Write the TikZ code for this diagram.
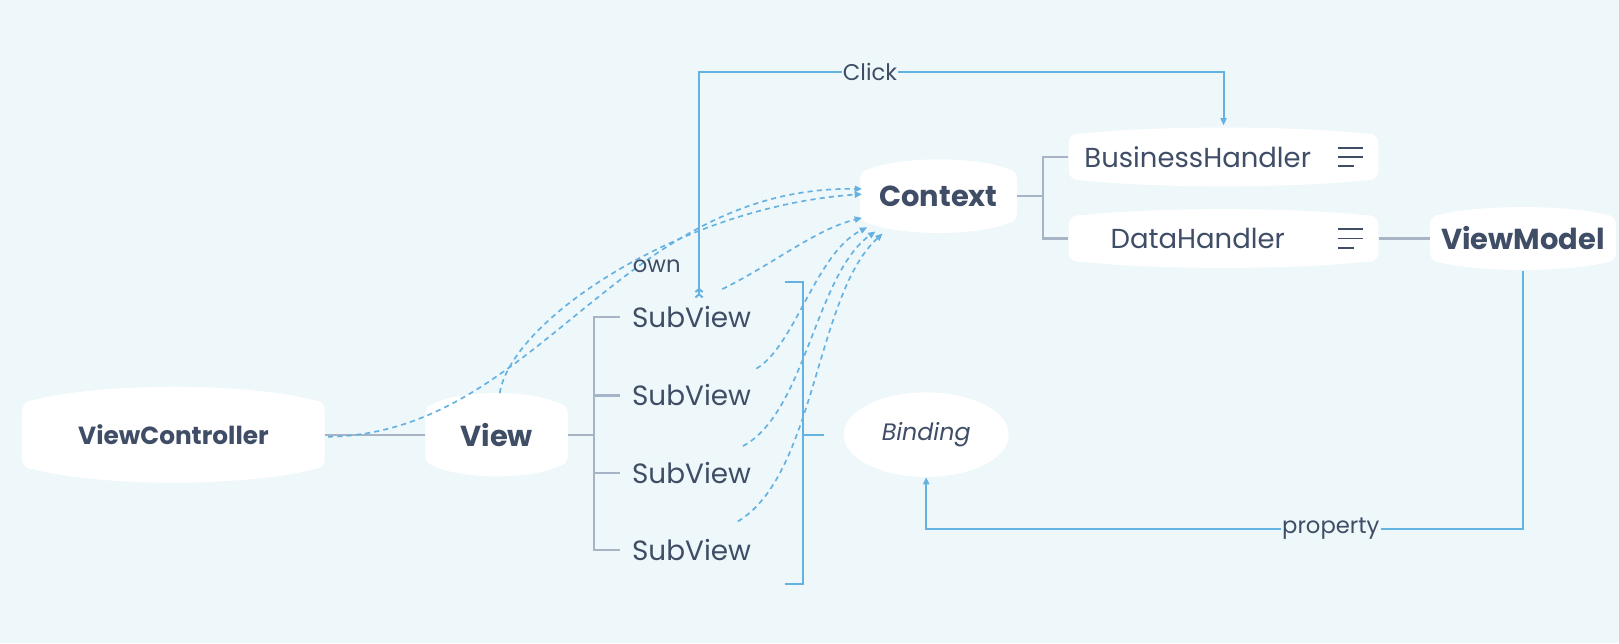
\documentclass[tikz,border=0pt]{standalone}
\usepackage{fontspec}
\setmainfont{Poppins}
\usetikzlibrary{arrows.meta,calc,shapes.geometric}
\definecolor{bg}{HTML}{EEF7FA}
\definecolor{txt}{HTML}{3F4D66}
\definecolor{gry}{HTML}{A6B4C5}
\definecolor{blu}{HTML}{64B1E2}
\newcommand\blobfill[2]{%
  \fill[white] ($(#1.north west)+(6,1)$) .. controls ($(#1.north west)!0.25!(#1.north east)+(0,-#2)$) and ($(#1.north west)!0.75!(#1.north east)+(0,-#2)$) .. ($(#1.north east)+(-6,1)$) -- cycle;
  \fill[white] ($(#1.south west)+(6,-1)$) .. controls ($(#1.south west)!0.25!(#1.south east)+(0,#2)$) and ($(#1.south west)!0.75!(#1.south east)+(0,#2)$) .. ($(#1.south east)+(-6,-1)$) -- cycle;
}
\newcommand\menuicon[1]{%
  \draw[txt, line width=1.8pt] ($(#1.east)+(-39,-9)$) -- ($(#1.east)+(-15,-9)$);
  \draw[txt, line width=1.8pt] ($(#1.east)+(-39,0)$) -- ($(#1.east)+(-15,0)$);
  \draw[txt, line width=1.8pt] ($(#1.east)+(-39,9)$) -- ($(#1.east)+(-24,9)$);
}
\begin{document}
\begin{tikzpicture}[x=1pt,y=-1pt,
  box/.style={fill=white, rounded corners=9pt, inner sep=0pt, text=txt, align=center},
  bold/.style={font=\fontsize{#1}{#1}\selectfont\bfseries},
  reg/.style={font=\fontsize{#1}{#1}\selectfont},
  sub/.style={text=txt, font=\fontsize{27}{27}\selectfont, inner xsep=12pt, inner ysep=0pt},
  lbl/.style={text=txt, font=\fontsize{22}{22}\selectfont, fill=bg, inner xsep=1pt, inner ysep=0pt},
  gline/.style={draw=gry, line width=2.2pt},
  bline/.style={draw=blu, line width=1.9pt},
  tip/.style={-{Triangle[length=7pt,width=6pt]}},
  dline/.style={draw=blu, line width=1.6pt, dash pattern=on 5pt off 4pt, -{Triangle[length=7pt,width=6pt]}},
]
\useasboundingbox (0,0) rectangle (1568,623);
\fill[bg] (0,0) rectangle (1568,623);

% nodes
\node[box, bold=24, minimum width=293pt, minimum height=66pt] (vc) at (168,421) {ViewController};
\node[box, bold=28, minimum width=138pt, minimum height=60pt] (view) at (481,421) {View};
\node[box, bold=28, minimum width=152pt, minimum height=52pt] (ctx) at (909,190) {Context};
\node[box, reg=26.6, minimum width=300pt, minimum height=45pt] (bh) at (1185,152) {BusinessHandler\hspace{50pt}};
\node[box, reg=26.6, minimum width=300pt, minimum height=45pt] (dh) at (1185,231) {DataHandler\hspace{50pt}};
\node[box, bold=28, minimum width=180pt, minimum height=46pt] (vm) at (1475,231) {ViewModel};
\node[fill=white, ellipse, inner sep=0pt, minimum width=160pt, minimum height=82pt, text=txt, font=\fontsize{23}{23}\selectfont\itshape] (bind) at (897,421) {\raisebox{-2pt}{Binding}};
\blobfill{vc}{18}
\blobfill{view}{14}
\blobfill{ctx}{13}
\blobfill{bh}{8}
\blobfill{dh}{8}
\blobfill{vm}{10}
\menuicon{bh}
\menuicon{dh}

\node[sub, anchor=west] (sv1) at (600,307) {SubView};
\node[sub, anchor=west] (sv2) at (600,383) {SubView};
\node[sub, anchor=west] (sv3) at (600,458) {SubView};
\node[sub, anchor=west] (sv4) at (600,533) {SubView};

% grey tree lines
\coordinate (tv) at (575,421);
\draw[gline] (vc.east) -- (view.west);
\draw[gline] (view.east) -- (tv);
\draw[gline] (sv1.west) -| (tv);
\draw[gline] (sv2.west) -| (tv);
\draw[gline] (sv3.west) -| (tv);
\draw[gline] (sv4.west) -| (tv);
\coordinate (tc) at (1010,190);
\draw[gline] (ctx.east) -- (tc);
\draw[gline] (bh.west) -| (tc);
\draw[gline] (dh.west) -| (tc);
\draw[gline] (dh.east) -- (vm.west);

% blue bracket
\coordinate (brT) at (760,273);
\coordinate (brB) at (760,566);
\coordinate (brM) at (778,421);
\draw[bline] (brT) -| (brM) |- (brB);
\draw[bline] (brM) -- (bind.west -| 798,0);

% Click
\coordinate (ck) at (677,289);
\coordinate (ckTop) at (677,70);
\draw[bline, {Straight Barb[reversed,length=3pt,width=7pt] Straight Barb[reversed,length=3pt,width=7pt]}-{Triangle[length=7pt,width=6pt]}, shorten >=8pt]
  (ck) -- (ckTop) -| node[lbl, pos=0.163] {Click} (bh.north);

% property
\coordinate (pb) at (0,512);
\draw[bline, tip, shorten <=8pt] (vm.south) -- (vm.south |- pb) -| node[lbl, pos=0.161] {property} (bind.south);

% dashed own curves
\draw[dline] ($(vc.east)+(3,2)$) .. controls (520,420) and (600,180) .. ($(ctx.west)+(2,-7)$);
\node[text=txt, font=\fontsize{22}{22}\selectfont, inner sep=0pt] (own) at (636,258) {own};
\draw[dline] ($(view.north)+(3,-10)$) .. controls (495,310) and (660,200) .. ($(ctx.west)+(2,-2)$);
\draw[dline] ($(sv1.east)+(-40,-27)$) .. controls (750,255) and (790,222) .. ($(ctx.west)+(2,21)$);
\draw[dline] ($(sv2.east)+(-7,-26)$) .. controls (770,335) and (790,245) .. ($(ctx.south west)+(7,4)$);
\draw[dline] ($(sv3.east)+(-20,-26)$) .. controls (780,400) and (790,265) .. ($(ctx.south west)+(15,8)$);
\draw[dline] ($(sv4.east)+(-25,-28)$) .. controls (790,460) and (790,285) .. ($(ctx.south west)+(22,10)$);
\end{tikzpicture}
\end{document}
